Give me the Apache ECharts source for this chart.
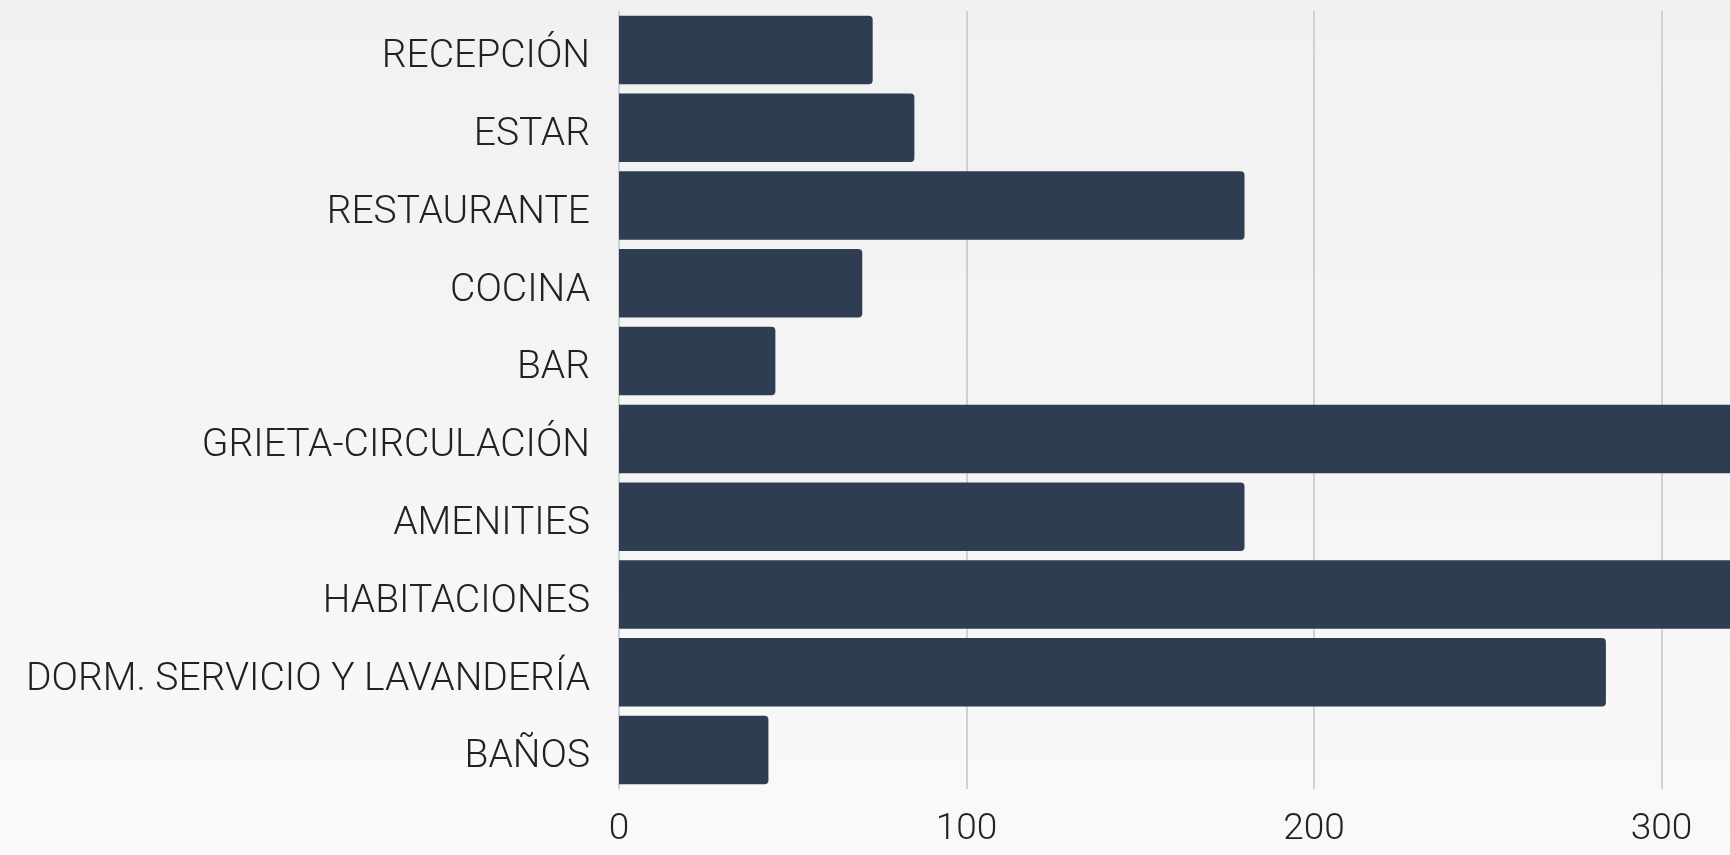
<!DOCTYPE html>
<html>
<head>
<meta charset="utf-8">
<script src="https://cdn.jsdelivr.net/npm/echarts@6/dist/echarts.min.js"></script>
<style>
html,body{margin:0;padding:0;background:#f5f5f5;}
#c{width:1730px;height:855px;}
</style>
</head>
<body>
<div id="c"></div>
<script>
const categories = ["RECEPCIÓN","ESTAR","RESTAURANTE","COCINA","BAR","GRIETA-CIRCULACIÓN","AMENITIES","HABITACIONES","DORM. SERVICIO Y LAVANDERÍA","BAÑOS"];
const values = [73, 85, 180, 70, 45, 350, 180, 380, 284, 43];
const xTicks = [0, 100, 200, 300, 400];

const chart = echarts.init(document.getElementById('c'), null, {renderer:'canvas'});
chart.setOption({
  backgroundColor: new echarts.graphic.LinearGradient(0, 0, 0, 1, [
    { offset: 0, color: '#f1f1f1' }, { offset: 1, color: '#f9f9f9' }
  ]),
  animation: false,
  grid: { left: 619, top: 11, width: 1390, height: 778, containLabel: false, outerBoundsMode: 'none' },
  xAxis: {
    type: 'value', min: xTicks[0], max: xTicks[xTicks.length-1], interval: 100,
    axisLine: { show: false }, axisTick: { show: false },
    splitLine: { show: true, lineStyle: { color: '#c4c4c4', width: 1.5 } },
    axisLabel: { color: '#222', fontFamily: 'Roboto', fontWeight: 300, fontSize: 37, margin: 22 }
  },
  yAxis: {
    type: 'category', data: categories, inverse: true,
    axisLine: { show: false }, axisTick: { show: false },
    axisLabel: {
      margin: 29,
      formatter: function (v) { return '{a|' + v + '}'; },
      rich: { a: { color: '#222', fontFamily: 'Roboto', fontWeight: 300, fontSize: 39, padding: [15, 0, 0, 0] } }
    }
  },
  series: [{
    type: 'bar', data: values, barCategoryGap: '12%',
    itemStyle: { color: '#2e3d52', borderRadius: [0, 4, 4, 0] }
  }]
});
</script>
</body>
</html>
